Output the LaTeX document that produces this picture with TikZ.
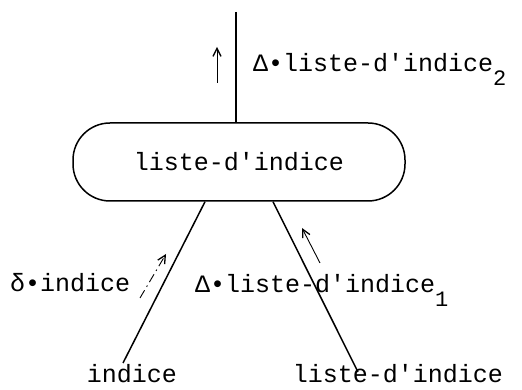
\documentclass[tikz,border=0pt]{standalone}
\usepackage{fontspec}
\setmonofont{Liberation Mono}
\usetikzlibrary{arrows.meta, calc}
\tikzset{
    boite/.style={draw, rounded corners=37pt, minimum width=332pt, minimum height=78pt, inner sep=0pt, line width=1.5pt},
    trait/.style={line width=1.5pt},
    fleche/.style={-{Straight Barb[length=8pt,width=8pt,line width=1.3pt]}, line width=0.9pt},
    etiq/.style={font=\ttfamily\fontsize{25}{30}\selectfont, inner sep=0pt},
}
\newcommand{\indbas}[1]{\raisebox{-0.55em}{\fontsize{22}{26}\selectfont #1}}

\begin{document}
\begin{tikzpicture}[x=1pt, y=1pt]
\useasboundingbox (0,0) rectangle (522,390);
% noeud central
\node[boite, etiq] (liste) at (239,228) {liste-d\textquotesingle indice\hspace{26pt}};
% pere
\coordinate (haut) at (236,378);
\draw[trait] (haut) -- (haut |- liste.north);
\draw[fleche] (217,307) -- (217,343);
\node[etiq, anchor=base west] (delta2) at (253,318) {Δ•liste-d\textquotesingle indice\indbas{2}};
% fils gauche
\node[etiq, anchor=base] (indice) at (132,7) {indice};
\coordinate (bg) at (123,27);
\draw[trait] ($(liste.south)+(-34,0)$) -- (bg);
\draw[fleche, dash pattern=on 9pt off 4pt on 1.5pt off 4pt] (140,92) -- (166,136);
\node[etiq, anchor=base west] (petitdelta) at (10,98) {δ•indice};
% fils droit
\node[etiq, anchor=base] (listebas) at (398,7) {liste-d\textquotesingle indice};
\coordinate (bd) at (358,18);
\draw[trait] ($(liste.south)+(34,0)$) -- (bd);
\draw[fleche] (320,127) -- (302,162);
\node[etiq, anchor=base west] (delta1) at (195,97) {Δ•liste-d\textquotesingle indice\indbas{1}};
\end{tikzpicture}
\end{document}
